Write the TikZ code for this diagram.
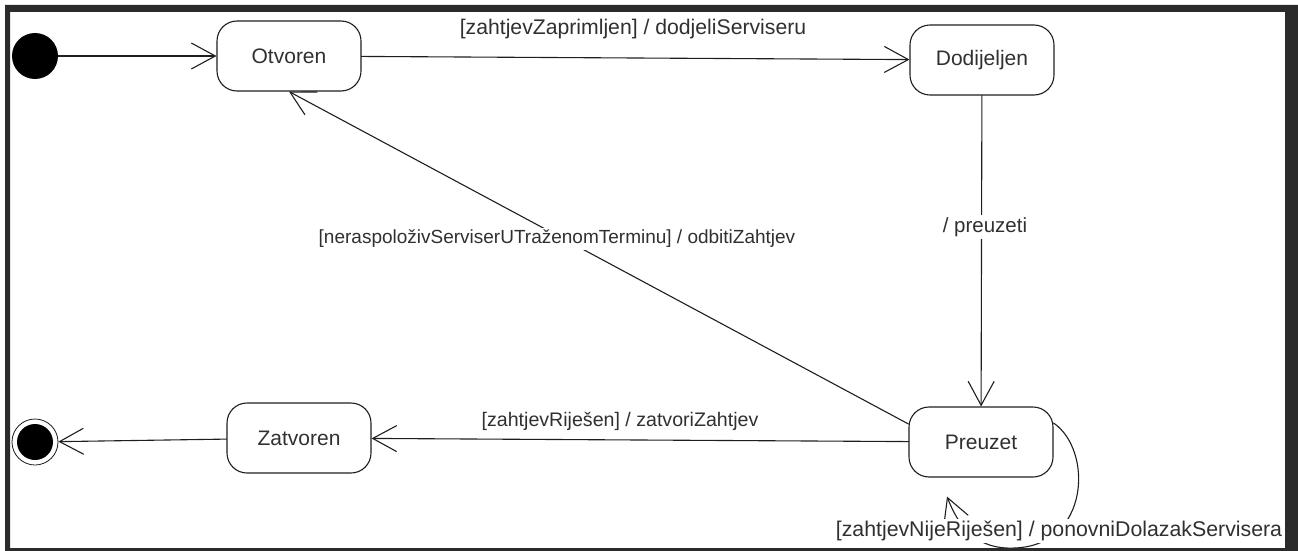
\documentclass[tikz,border=0pt]{standalone}
\usepackage{fontspec}
\setmainfont{Liberation Sans}
\usetikzlibrary{arrows.meta}

\definecolor{okvir}{HTML}{2B2B2B}
\definecolor{linija}{HTML}{1E1E1E}
\definecolor{tekst}{HTML}{303030}

\newcommand{\velicina}[1]{\fontsize{#1}{24}\selectfont}

\tikzset{
  stanje/.style={draw=linija, line width=1.1pt, rounded corners=20pt,
    minimum width=144pt, minimum height=70pt, inner sep=0pt,
    text=tekst, font=\velicina{21}},
  oznaka/.style={fill=white, inner sep=2pt, text=tekst,
    font=\velicina{20}},
  prijelaz/.style={draw=linija, line width=1.1pt, ->},
}

\begin{document}
\begin{tikzpicture}[line cap=round,line join=round,>={Straight Barb[length=24pt,width=26pt]},x=1pt,y=-1pt]
\useasboundingbox (0,0) rectangle (1298,551);

% pocetno i zavrsno stanje
\node[circle, fill=black, minimum size=46pt, inner sep=0pt] (pocetak) at (35,56) {};
\node[circle, draw=linija, line width=0.8pt, minimum size=46pt, inner sep=0pt] (kraj) at (35,442) {};
\fill[black] (kraj.center) circle (18pt);

% stanja
\node[stanje] (otvoren) at (289,56) {Otvoren};
\node[stanje] (dodijeljen) at (982,60) {Dodijeljen};
\node[stanje] (preuzet) at (981,442) {Preuzet};
\node[stanje] (zatvoren) at (299,438) {Zatvoren};

\coordinate (povratak) at ([xshift=-34pt,yshift=-19pt]preuzet.south);

% prijelazi
\draw[prijelaz] (pocetak) -- (otvoren);
\draw[prijelaz] (otvoren) -- (dodijeljen);
\draw[prijelaz] (dodijeljen) -- (preuzet);
\draw[prijelaz] ([yshift=18pt]preuzet.west) -- (otvoren.south);
\draw[prijelaz] (preuzet) -- (zatvoren);
\draw[prijelaz] (zatvoren) -- (kraj);
\draw[prijelaz] ([yshift=19pt]preuzet.east) .. controls (1093,450) and (1090,545) .. (1015,548)
  .. controls (975,550) and (958,525) .. (povratak);

% oznake
\node[oznaka, font=\velicina{21.2}] (lZaprimljen) at (633,29) {[zahtjevZaprimljen] / dodjeliServiseru};
\node[oznaka, font=\velicina{20.5}] (lPreuzeti) at (985,227) {/ preuzeti};
\node[oznaka, font=\velicina{19}] (lOdbiti) at (557,239) {[neraspoloživServiserUTraženomTerminu] / odbitiZahtjev};
\node[oznaka, font=\velicina{19.6}] (lRijesen) at (620,421) {[zahtjevRiješen] / zatvoriZahtjev};
\node[oznaka, font=\velicina{21.3}] (lNijeRijesen) at (1059,531) {[zahtjevNijeRiješen] / ponovniDolazakServisera};

% okvir
\fill[okvir, even odd rule] (5,5) rectangle (1298,551) (10,12) rectangle (1285,548);
\end{tikzpicture}
\end{document}
